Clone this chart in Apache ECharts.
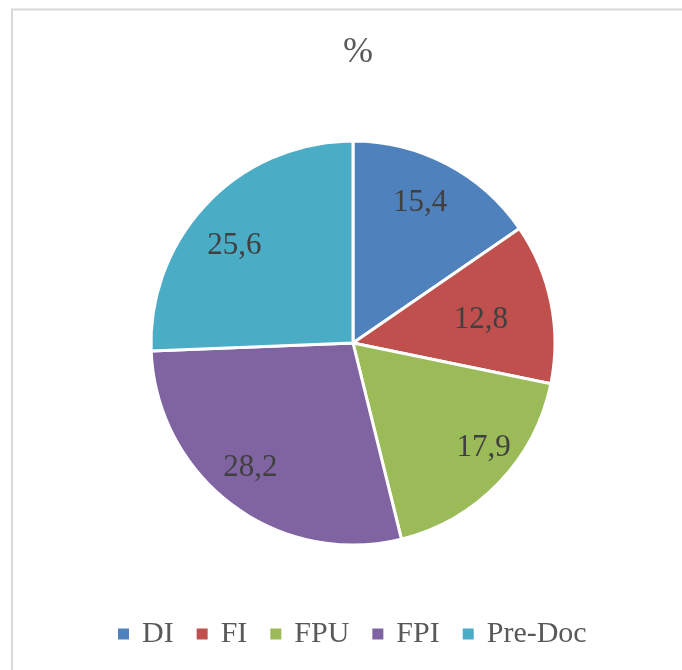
<!DOCTYPE html>
<html>
<head>
<meta charset="utf-8">
<script src="https://cdn.jsdelivr.net/npm/echarts@6/dist/echarts.min.js"></script>
<style>
html,body{margin:0;padding:0;background:#fff;}
#c{width:682px;height:670px;}
</style>
</head>
<body>
<div id="c"></div>
<script>
const categories = ['DI', 'FI', 'FPU', 'FPI', 'Pre-Doc'];
const values = [15.4, 12.8, 17.9, 28.2, 25.6];
const colors = ['#4F81BD', '#C0504D', '#9BBB59', '#8064A2', '#4BACC6'];
const titleText = '%';

const FONT = '"Liberation Serif", "DejaVu Serif", serif';
// small label nudges (Excel "best fit" placement)
const labelNudge = [[-7, 1], [-28, 8], [16, -5], [-7, -2], [-4, 13]];

const chart = echarts.init(document.getElementById('c'), null, {renderer: 'canvas'});
const data = categories.map((n, i) => ({name: n, value: values[i], itemStyle: {color: colors[i]}}));

chart.setOption({
  animation: false,
  backgroundColor: '#fff',
  title: {
    text: titleText, left: 353, top: 30, textAlign: 'center',
    textStyle: {fontFamily: FONT, fontSize: 36, fontWeight: 'normal', color: '#595959'}
  },
  graphic: [{
    type: 'rect', z: -1, silent: true,
    shape: {x: 12, y: 9.5, width: 700, height: 700},
    style: {fill: 'none', stroke: '#d9d9d9', lineWidth: 2}
  }],
  legend: {
    bottom: 16, left: 111,
    itemWidth: 13, itemHeight: 13, itemGap: 21, icon: 'rect',
    data: categories,
    textStyle: {fontFamily: FONT, fontSize: 30, color: '#595959', padding: [0, 0, 0, 7]}
  },
  series: [{
    type: 'pie', center: [353, 343], radius: [0, 202],
    startAngle: 90, clockwise: true,
    itemStyle: {borderColor: '#fff', borderWidth: 3},
    label: {show: false}, labelLine: {show: false},
    data: data, silent: true
  }, {
    type: 'pie', center: [353, 343], radius: [0, 312],
    startAngle: 90, clockwise: true,
    itemStyle: {color: 'transparent', borderWidth: 0},
    label: {
      show: true, position: 'inner',
      fontFamily: FONT, fontSize: 31, color: '#404040',
      formatter: p => String(p.value).replace('.', ',')
    },
    labelLayout: p => ({dx: labelNudge[p.dataIndex][0], dy: labelNudge[p.dataIndex][1]}),
    labelLine: {show: false},
    data: categories.map((n, i) => ({name: n, value: values[i], itemStyle: {color: 'transparent'}})),
    silent: true
  }]
});
</script>
</body>
</html>
